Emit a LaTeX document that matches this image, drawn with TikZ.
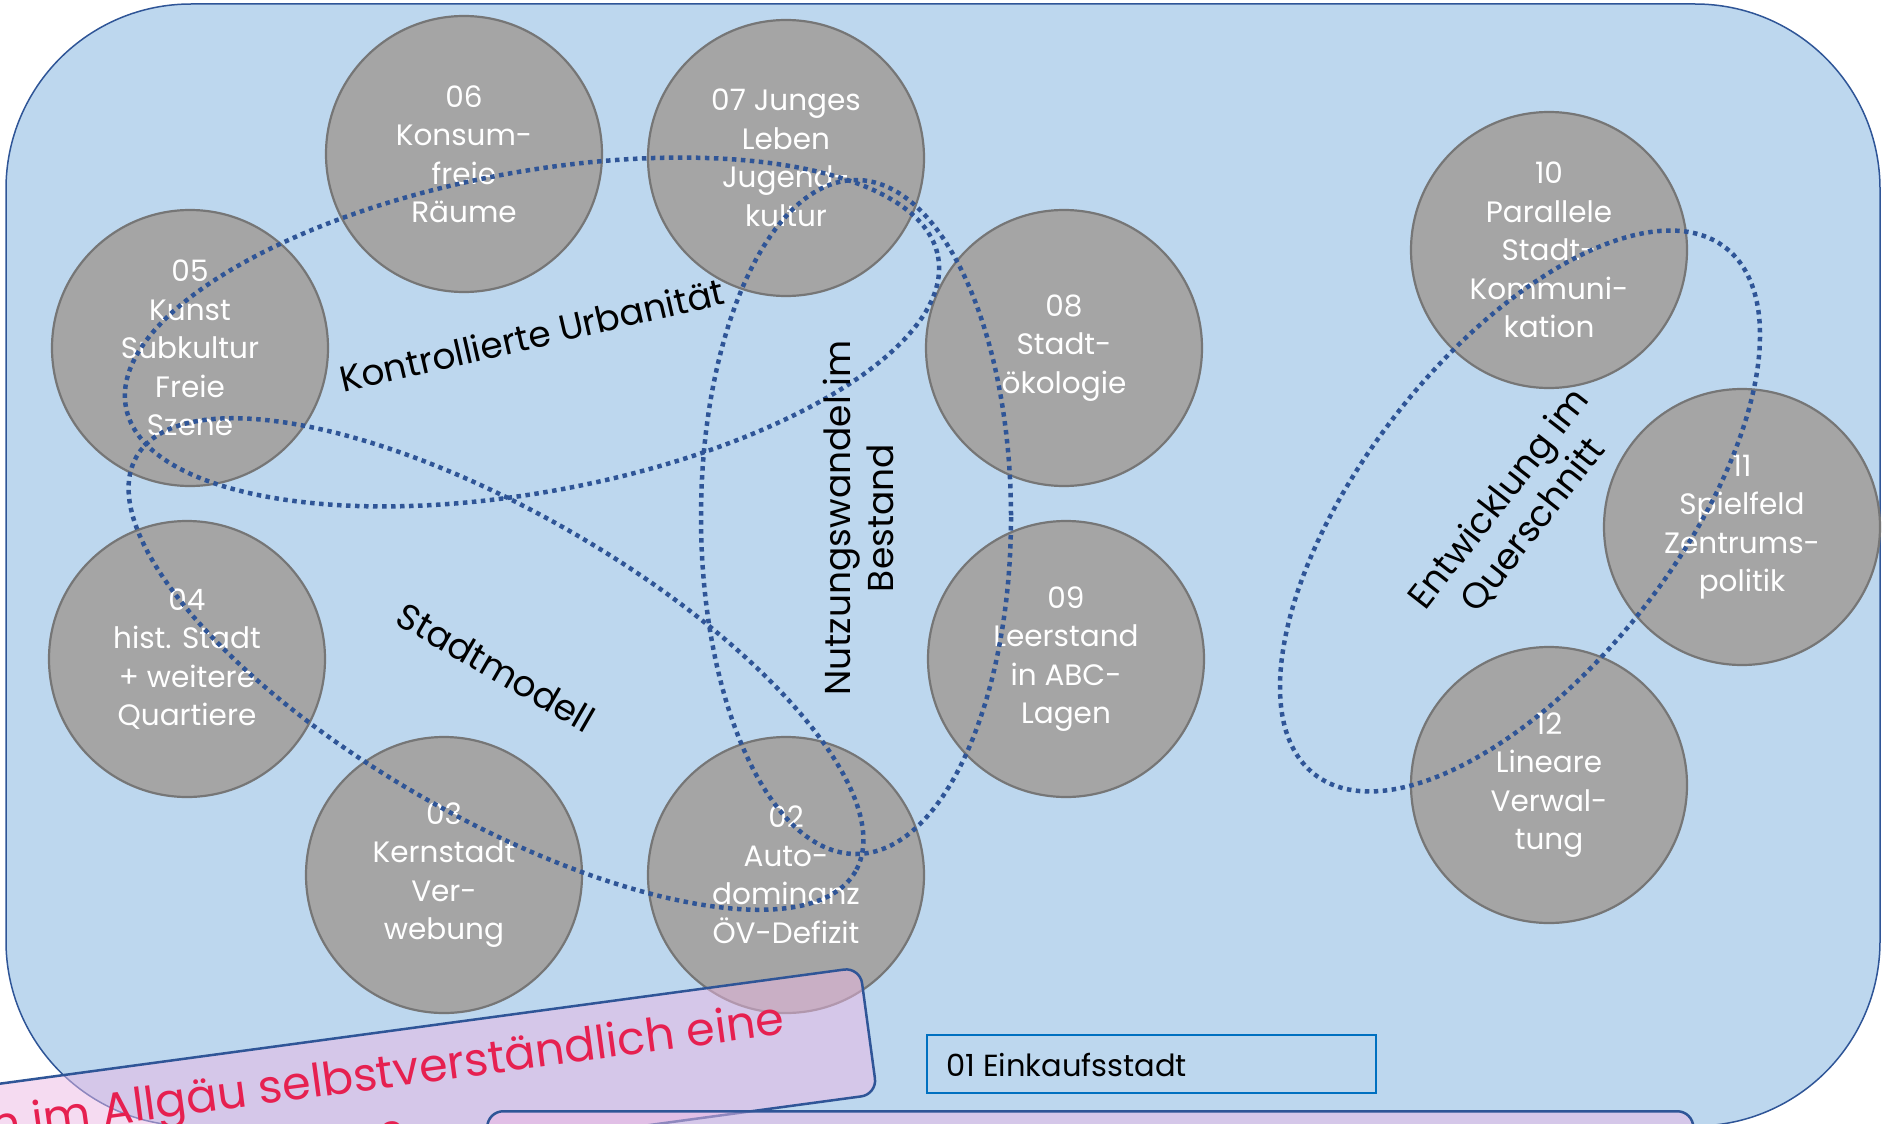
\documentclass[tikz,border=0pt]{standalone}
\usepackage{fontspec}
\setmainfont{Poppins}
\usetikzlibrary{shapes.geometric}
\definecolor{bgblue}{HTML}{BDD7EE}
\definecolor{rimblue}{HTML}{2F5597}
\definecolor{bubblefill}{HTML}{A5A5A5}
\definecolor{bubbleline}{HTML}{767676}
\definecolor{pinkfill}{HTML}{EDB9E5}
\definecolor{qred}{HTML}{E62050}
\definecolor{boxblue}{HTML}{0070C0}
\begin{document}
\begin{tikzpicture}[x=1pt,y=-1pt,
  bubble/.style={circle, fill=bubblefill, draw=bubbleline, line width=2.2pt,
    minimum size=276pt, inner sep=0pt, text=white, align=center,
    font=\fontsize{29.5}{38.5}\selectfont},
  grouprim/.style={draw=rimblue, line width=4.5pt, dash pattern=on 4.5pt off 4.5pt},
  grouplabel/.style={align=center, text=black, inner sep=0pt,
    font=\fontsize{36}{43}\selectfont},
  pinkbox/.style={draw=rimblue, line width=2.5pt, fill=pinkfill, fill opacity=0.5,
    rounded corners=16pt, inner sep=0pt},
  qtext/.style={text=qred, inner sep=0pt, font=\fontsize{46}{56}\selectfont}]
\useasboundingbox (0,0) rectangle (1882,1124);
\clip (0,0) rectangle (1882,1124);
\fill[white] (0,0) rectangle (1882,1124);
% frame
\node[draw=rimblue, fill=bgblue, line width=1.5pt, rounded corners=185pt,
  minimum width=1874pt, minimum height=1122pt, inner sep=0pt] (frame) at (943,565) {};
% bubbles
\node[bubble] (c06) at (464,154) {06\\Konsum-\\freie\\Räume};
\node[bubble] (c07) at (786,158) {07 Junges\\Leben\\Jugend-\\kultur};
\node[bubble] (c05) at (190,348) {05\\Kunst\\Subkultur\\Freie\\Szene};
\node[bubble] (c08) at (1064,348) {08\\Stadt-\\ökologie};
\node[bubble] (c04) at (187,659) {04\\hist. Stadt\\+ weitere\\Quartiere};
\node[bubble] (c09) at (1066,659) {09\\Leerstand\\in ABC-\\Lagen};
\node[bubble] (c03) at (444,875) {03\\Kernstadt\\Ver-\\webung};
\node[bubble] (c02) at (786,875) {02\\Auto-\\dominanz\\ÖV-Defizit};
\node[bubble] (c10) at (1549,250) {10\\Parallele\\Stadt-\\Kommuni-\\kation};
\node[bubble] (c11) at (1742,527) {11\\Spielfeld\\Zentrums-\\politik};
\node[bubble] (c12) at (1549,785) {12\\Lineare\\Verwal-\\tung};
% groups
\draw[grouprim, rotate around={10.5:(532,332)}] (532,332) ellipse [x radius=413, y radius=160];
\draw[grouprim, rotate around={-30:(496,664)}] (496,664) ellipse [x radius=415, y radius=152];
\draw[grouprim] (856,517) ellipse [x radius=155, y radius=337];
\draw[grouprim, rotate around={52:(1520,511)}] (1520,511) ellipse [x radius=334, y radius=157];
% group labels
\node[grouplabel, rotate=13] (lkontr) at (532,335) {Kontrollierte Urbanität};
\node[grouplabel, rotate=-30] (lstadt) at (496,667) {Stadtmodell};
\node[grouplabel, rotate=90] (lnutz) at (858,518) {Nutzungswandel im\\Bestand};
\node[grouplabel, rotate=52] (lentw) at (1516,512) {Entwicklung im\\Querschnitt};
% 01 box
\node[draw=boxblue, line width=2pt, anchor=north west, minimum width=449pt,
  minimum height=58pt, inner sep=0pt] (e01) at (926,1034) {};
\node[anchor=base west, inner sep=0pt, font=\fontsize{30.5}{36}\selectfont] (e01t) at (946,1076) {01 Einkaufsstadt};
% question box
\node[pinkbox, rotate=7.7, anchor=north east, minimum width=1500pt, minimum height=128pt] (qbox) at (861,966) {};
\node[qtext, rotate=7.7, anchor=base east] (q1) at (786,1034) {n im Allgäu selbstverständlich eine};
\node[qtext, rotate=7.7, anchor=base east] (q2) at (408,1152) {de?};
% lower box
\node[pinkbox, anchor=north west, minimum width=1206pt, minimum height=120pt] (b2) at (486,1110) {};
\end{tikzpicture}
\end{document}
